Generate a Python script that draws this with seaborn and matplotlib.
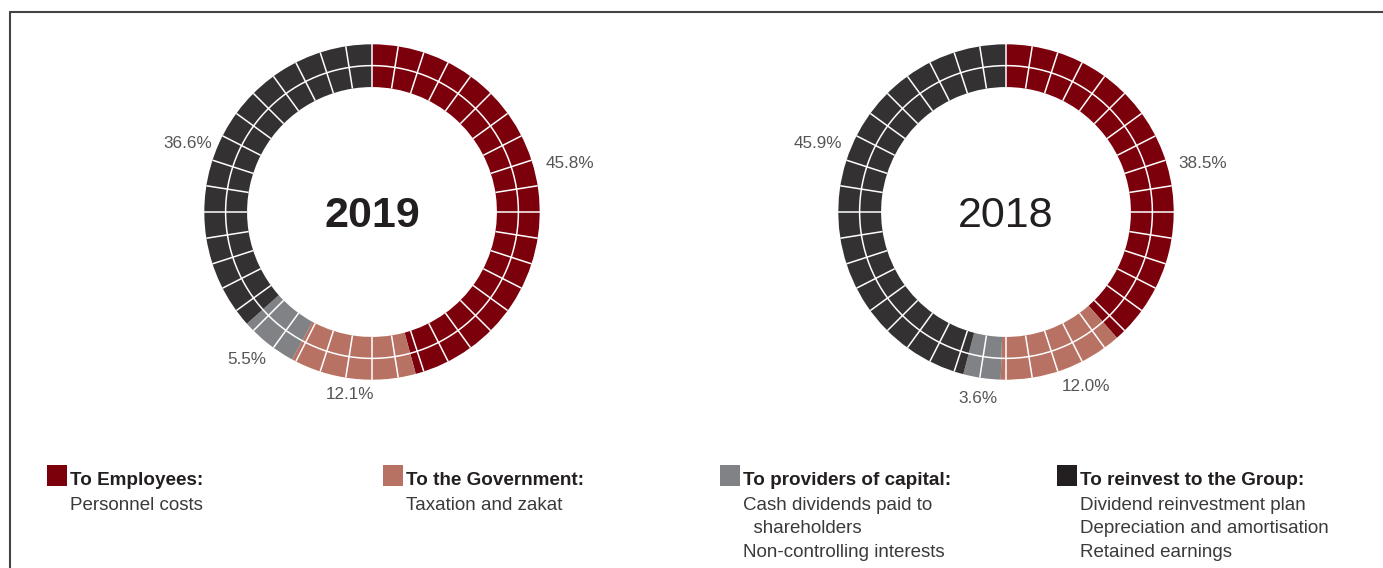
import numpy as np
import seaborn as sns
import matplotlib.pyplot as plt
from matplotlib.lines import Line2D
from matplotlib.patches import Rectangle

# Данные
categories = ['To Employees:', 'To the Government:', 'To providers of capital:', 'To reinvest to the Group:']
years = ['2019', '2018']
share_2019 = [45.8, 12.1, 5.5, 36.6]
share_2018 = [38.5, 12.0, 3.6, 45.9]
details = [
    ['Personnel costs'],
    ['Taxation and zakat'],
    ['Cash dividends paid to', '  shareholders', 'Non-controlling interests'],
    ['Dividend reinvestment plan', 'Depreciation and amortisation', 'Retained earnings'],
]

colors = ['#7b000c', '#b87263', '#818286', '#333132']
legend_colors = ['#7b000c', '#b87263', '#818286', '#231f20']

sns.set_theme(style='white')
plt.rcParams['font.family'] = ['Liberation Sans', 'DejaVu Sans']

W, H = 1383, 568
fig = plt.figure(figsize=(W / 100, H / 100), dpi=100)

R = 167.7  # радиус кольца в пикселях
centers = [(372, 212), (1006, 212)]
# положения подписей процентов (в долях радиуса)
label_pos = [
    [(1.18, 0.29), (-0.13, -1.09), (-0.745, -0.88), (-1.10, 0.41)],
    [(1.175, 0.29), (0.48, -1.04), (-0.167, -1.11), (-1.12, 0.41)],
]
center_weight = ['bold', 'normal']

for i, values in enumerate([share_2019, share_2018]):
    cx, cy = centers[i]
    s = R * 1.02
    ax = fig.add_axes([(cx - s) / W, 1 - (cy + s) / H, 2 * s / W, 2 * s / H])
    wedges, texts, autotexts = ax.pie(
        values, colors=colors, startangle=90, counterclock=False, radius=1,
        autopct='%.1f%%', pctdistance=1.2,
        wedgeprops=dict(width=0.255, linewidth=0),
        textprops=dict(color='#555555', fontsize=12.3),
    )
    for t, pos in zip(autotexts, label_pos[i]):
        t.set_position(pos)
        t.set_ha('center')
        t.set_va('center')

    # белая сетка: радиальные линии и средняя окружность
    r_in, r_out = 0.745, 1.0
    for k in range(40):
        a = np.deg2rad(90 - k * 9)
        ax.plot([r_in * np.cos(a), r_out * np.cos(a)], [r_in * np.sin(a), r_out * np.sin(a)],
                color='white', lw=1.1, solid_capstyle='butt')
    t = np.linspace(0, 2 * np.pi, 400)
    ax.plot(0.873 * np.cos(t), 0.873 * np.sin(t), color='white', lw=1.1)

    ax.text(0, -0.09, years[i], ha='center', va='baseline', fontsize=31,
            fontweight=center_weight[i], color='#231f20')
    ax.set_xlim(-1.02, 1.02)
    ax.set_ylim(-1.02, 1.02)
    ax.set_aspect('equal')
    ax.axis('off')

# Рамка
fig.add_artist(Line2D([10 / W, 1], [1 - 12 / H, 1 - 12 / H], color='#444444', lw=1.5))
fig.add_artist(Line2D([10 / W, 10 / W], [1 - 12 / H, 0], color='#444444', lw=1.5))

# Легенда
col_x = [47, 383, 720, 1057]
for j, cat in enumerate(categories):
    x = col_x[j]
    fig.add_artist(Rectangle((x / W, 1 - 486 / H), 20 / W, 21 / H,
                             color=legend_colors[j], lw=0))
    fig.text((x + 23) / W, 1 - 485 / H, cat, fontsize=13.6, fontweight='bold',
             color='#231f20', va='baseline')
    for n, line in enumerate(details[j]):
        fig.text((x + 23) / W, 1 - (509.5 + n * 23.8) / H, line, fontsize=13.5,
                 color='#3a3a3a', va='baseline')

fig.savefig('out.png', dpi=100)
